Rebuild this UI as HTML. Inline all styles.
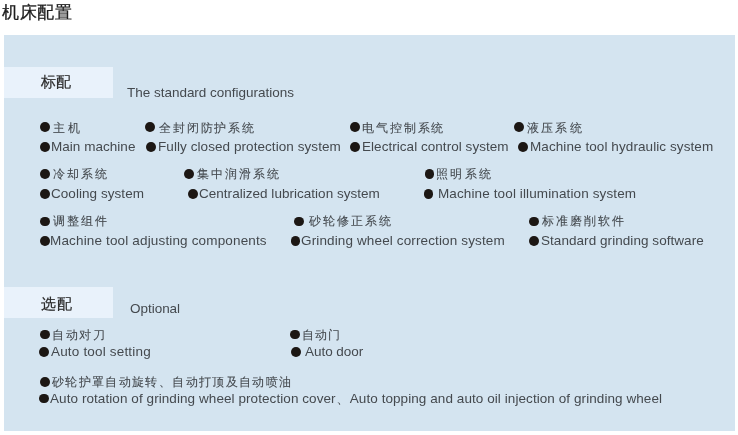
<!DOCTYPE html>
<html><head><meta charset="utf-8"><style>
html,body{margin:0;padding:0;background:#fff;width:738px;height:435px;overflow:hidden}
body{position:relative;font-family:"Liberation Sans",sans-serif;-webkit-font-smoothing:antialiased}
.a{position:absolute;white-space:nowrap;line-height:16px;will-change:transform}
.b{position:absolute;border-radius:50%;background:#1c1714}
.zh{color:#44494e;-webkit-text-stroke:0.08px #3c4045}
.en{color:#44494e}
</style></head><body>
<div style="position:absolute;left:4px;top:35px;width:731px;height:396px;background:#d4e4f0"></div>
<div style="position:absolute;left:4px;top:67px;width:109px;height:31px;background:#e9f2fb"></div>
<div style="position:absolute;left:4px;top:287px;width:109px;height:31px;background:#e9f2fb"></div>
<div class="b" style="left:40.10px;top:122.40px;width:9.80px;height:9.80px"></div>
<div class="b" style="left:145.30px;top:122.40px;width:9.80px;height:9.80px"></div>
<div class="b" style="left:349.85px;top:122.40px;width:9.80px;height:9.80px"></div>
<div class="b" style="left:514.25px;top:122.40px;width:9.80px;height:9.80px"></div>
<div class="b" style="left:40.10px;top:141.90px;width:9.80px;height:9.80px"></div>
<div class="b" style="left:145.85px;top:141.90px;width:9.80px;height:9.80px"></div>
<div class="b" style="left:350.00px;top:141.90px;width:9.80px;height:9.80px"></div>
<div class="b" style="left:517.85px;top:141.90px;width:9.80px;height:9.80px"></div>
<div class="b" style="left:40.30px;top:169.35px;width:9.80px;height:9.80px"></div>
<div class="b" style="left:184.20px;top:169.35px;width:9.80px;height:9.80px"></div>
<div class="b" style="left:424.60px;top:169.35px;width:9.80px;height:9.80px"></div>
<div class="b" style="left:40.45px;top:188.85px;width:9.80px;height:9.80px"></div>
<div class="b" style="left:188.05px;top:188.85px;width:9.80px;height:9.80px"></div>
<div class="b" style="left:423.65px;top:188.85px;width:9.80px;height:9.80px"></div>
<div class="b" style="left:40.40px;top:216.70px;width:9.80px;height:9.80px"></div>
<div class="b" style="left:294.25px;top:216.70px;width:9.80px;height:9.80px"></div>
<div class="b" style="left:529.25px;top:216.70px;width:9.80px;height:9.80px"></div>
<div class="b" style="left:40.40px;top:236.30px;width:9.80px;height:9.80px"></div>
<div class="b" style="left:290.70px;top:236.30px;width:9.80px;height:9.80px"></div>
<div class="b" style="left:529.40px;top:236.30px;width:9.80px;height:9.80px"></div>
<div class="b" style="left:39.95px;top:329.70px;width:9.80px;height:9.80px"></div>
<div class="b" style="left:290.15px;top:329.70px;width:9.80px;height:9.80px"></div>
<div class="b" style="left:38.90px;top:347.10px;width:9.80px;height:9.80px"></div>
<div class="b" style="left:291.10px;top:347.10px;width:9.80px;height:9.80px"></div>
<div class="b" style="left:39.95px;top:376.90px;width:9.80px;height:9.80px"></div>
<div class="b" style="left:38.75px;top:393.50px;width:9.80px;height:9.80px"></div>
<div class="a zh" id="i0" style="left:2.00px;top:5.40px;font-size:16.8px;letter-spacing:0.667px;color:#1e1e1e;-webkit-text-stroke:0.3px #1e1e1e">机床配置</div>
<div class="a zh" id="i1" style="left:40.60px;top:74.10px;font-size:14.6px;letter-spacing:0.0px;color:#2a2a2a;-webkit-text-stroke:0.2px #2a2a2a">标配</div>
<div class="a zh" id="i2" style="left:41.40px;top:295.60px;font-size:14.6px;letter-spacing:0.6px;color:#2a2a2a;-webkit-text-stroke:0.2px #2a2a2a">选配</div>
<div class="a en" id="i3" style="left:127.40px;top:85.00px;font-size:13.5px;letter-spacing:-0.018px;">The standard configurations</div>
<div class="a en" id="i4" style="left:129.50px;top:301.00px;font-size:13.5px;letter-spacing:-0.025px;">Optional</div>
<div class="a zh" id="i5" style="left:53.00px;top:119.50px;font-size:11.8px;letter-spacing:2.7px;">主机</div>
<div class="a zh" id="i6" style="left:158.50px;top:119.50px;font-size:11.8px;letter-spacing:1.867px;">全封闭防护系统</div>
<div class="a zh" id="i7" style="left:362.40px;top:119.50px;font-size:11.8px;letter-spacing:1.9px;">电气控制系统</div>
<div class="a zh" id="i8" style="left:527.20px;top:119.50px;font-size:11.8px;letter-spacing:2.169px;">液压系统</div>
<div class="a en" id="i9" style="left:51.40px;top:139.00px;font-size:13.5px;letter-spacing:0.034px;">Main machine</div>
<div class="a en" id="i10" style="left:157.50px;top:139.00px;font-size:13.5px;letter-spacing:0.069px;">Fully closed protection system</div>
<div class="a en" id="i11" style="left:361.50px;top:139.00px;font-size:13.5px;letter-spacing:0.042px;">Electrical control system</div>
<div class="a en" id="i12" style="left:529.70px;top:139.00px;font-size:13.5px;letter-spacing:0.083px;">Machine tool hydraulic system</div>
<div class="a zh" id="i13" style="left:53.00px;top:166.20px;font-size:11.8px;letter-spacing:2.034px;">冷却系统</div>
<div class="a zh" id="i14" style="left:196.90px;top:166.20px;font-size:11.8px;letter-spacing:2.1px;">集中润滑系统</div>
<div class="a zh" id="i15" style="left:436.10px;top:166.20px;font-size:11.8px;letter-spacing:2.436px;">照明系统</div>
<div class="a en" id="i16" style="left:51.20px;top:186.00px;font-size:13.5px;letter-spacing:0.051px;">Cooling system</div>
<div class="a en" id="i17" style="left:198.90px;top:186.00px;font-size:13.5px;letter-spacing:0.027px;">Centralized lubrication system</div>
<div class="a en" id="i18" style="left:437.80px;top:186.00px;font-size:13.5px;letter-spacing:0.121px;">Machine tool illumination system</div>
<div class="a zh" id="i19" style="left:52.70px;top:212.90px;font-size:11.8px;letter-spacing:1.97px;">调整组件</div>
<div class="a zh" id="i20" style="left:308.90px;top:212.90px;font-size:11.8px;letter-spacing:1.98px;">砂轮修正系统</div>
<div class="a zh" id="i21" style="left:541.70px;top:212.90px;font-size:11.8px;letter-spacing:2.02px;">标准磨削软件</div>
<div class="a en" id="i22" style="left:50.40px;top:233.00px;font-size:13.5px;letter-spacing:0.156px;">Machine tool adjusting components</div>
<div class="a en" id="i23" style="left:301.40px;top:233.00px;font-size:13.5px;letter-spacing:0.133px;">Grinding wheel correction system</div>
<div class="a en" id="i24" style="left:540.70px;top:233.00px;font-size:13.5px;letter-spacing:0.056px;">Standard grinding software</div>
<div class="a zh" id="i25" style="left:52.20px;top:326.50px;font-size:11.8px;letter-spacing:1.631px;">自动对刀</div>
<div class="a zh" id="i26" style="left:302.40px;top:326.50px;font-size:11.8px;letter-spacing:1.1px;">自动门</div>
<div class="a en" id="i27" style="left:51.00px;top:344.21px;font-size:13.5px;letter-spacing:0.177px;">Auto tool setting</div>
<div class="a en" id="i28" style="left:304.50px;top:344.21px;font-size:13.5px;letter-spacing:-0.031px;">Auto door</div>
<div class="a zh" id="i29" style="left:52.20px;top:373.80px;font-size:11.8px;letter-spacing:1.355px;">砂轮护罩自动旋转、自动打顶及自动喷油</div>
<div class="a en" id="i30" style="left:49.90px;top:390.80px;font-size:13.5px;letter-spacing:0.073px;">Auto rotation of grinding wheel protection cover、Auto topping and auto oil injection of grinding wheel</div>
</body></html>
